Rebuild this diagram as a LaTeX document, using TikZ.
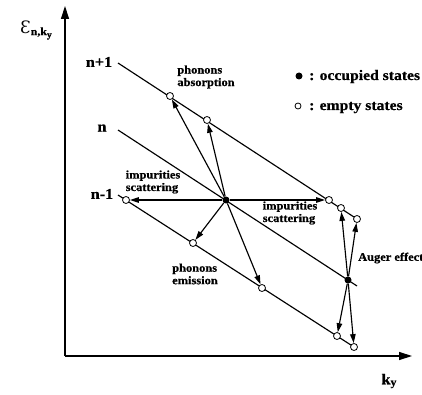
\documentclass[tikz,border=0pt]{standalone}
\usepackage{fontspec}
\setmainfont{Liberation Serif}[FakeStretch=1.08,BoldFeatures={FakeBold=0.6}]
\newfontfamily\epsfont{DejaVu Serif}
\usetikzlibrary{arrows.meta}
\begin{document}
\begin{tikzpicture}[x=1pt,y=-1pt,
  band/.style={line width=1.15pt},
  arr/.style={line width=1.15pt,-{Triangle[length=9pt,width=5.5pt]}},
  axis/.style={line width=1.3pt,-{Triangle[length=13pt,width=8pt]}},
  emptyst/.style={circle,draw,fill=white,line width=0.8pt,inner sep=0pt,minimum size=7pt},
  occst/.style={circle,fill=black,inner sep=0pt,minimum size=7pt},
  lbl/.style={font=\bfseries\fontsize{11.5}{12.5}\selectfont,align=left,inner sep=0pt},
  big/.style={font=\bfseries\fontsize{15}{16}\selectfont,inner sep=0pt},
  leg/.style={font=\bfseries\fontsize{14.5}{16}\selectfont,inner sep=0pt,anchor=base west},
]
\useasboundingbox (0,0) rectangle (422,395);
% axes
\coordinate (O) at (65,356);
\coordinate (ytop) at (65,6);
\coordinate (xend) at (412,356);
\draw[axis] (O) -- (ytop);
\draw[axis] (O) -- (xend);
\node[big] (ylab) at (36,30) {{\epsfont\mdseries\fontsize{17}{17}\selectfont Ɛ}\raisebox{-2pt}{\fontsize{11}{11}\selectfont n,k\raisebox{-2.5pt}{\fontsize{9}{9}\selectfont y}}};
\node[big] (xlab) at (389,381) {k\raisebox{-1.5pt}{\fontsize{11}{11}\selectfont y}};
% bands
\coordinate (a0) at (118,63);  \coordinate (a1) at (357,219);
\coordinate (b0) at (118,130); \coordinate (b1) at (357,286);
\coordinate (c0) at (118,195); \coordinate (c1) at (354,347);
\draw[band] (a0) -- (a1);
\draw[band] (b0) -- (b1);
\draw[band] (c0) -- (c1);
\node[big] (nlab1) at (99,62) {n+1};
\node[big] (nlab) at (102,128) {n};
\node[big] (nlab0) at (102,194) {n-1};
% states
\node[occst] (C) at (226,200) {};
\node[occst] (A) at (348,280) {};
\node[emptyst] (u1) at (170,96) {};
\node[emptyst] (u2) at (207,120) {};
\node[emptyst] (r1) at (329,200) {};
\node[emptyst] (r2) at (341,208) {};
\node[emptyst] (r3) at (357,219) {};
\node[emptyst] (l1) at (126,200) {};
\node[emptyst] (d1) at (193,243) {};
\node[emptyst] (d2) at (262,288) {};
\node[emptyst] (d3) at (337,336) {};
\node[emptyst] (d4) at (354,347) {};
% transitions
\draw[arr] (C) -- (u1);
\draw[arr] (C) -- (u2);
\draw[arr] (C) -- (r1);
\draw[arr] (C) -- (l1);
\draw[arr] (C) -- (d1);
\draw[arr] (C) -- (d2);
\draw[arr] (A) -- (r2);
\draw[arr] (A) -- (r3);
\draw[arr] (A) -- (d3);
\draw[arr] (A) -- (d4);
% labels
\node[lbl] (pa) at (206,77) {phonons\\absorption};
\node[lbl] (isl) at (153,182) {impurities\\scattering};
\node[lbl] (isr) at (290,213) {impurities\\scattering};
\node[lbl] (pe) at (195,274) {phonons\\emission};
\node[lbl,anchor=west] (aug) at (358,258) {Auger effect};
% legend
\node[occst] (lo) at (299,76) {};
\node[leg] (lot) at (309,80) {: occupied states};
\node[emptyst,minimum size=6pt] (le) at (298,106) {};
\node[leg] (let) at (309,110) {: empty states};
\end{tikzpicture}
\end{document}
